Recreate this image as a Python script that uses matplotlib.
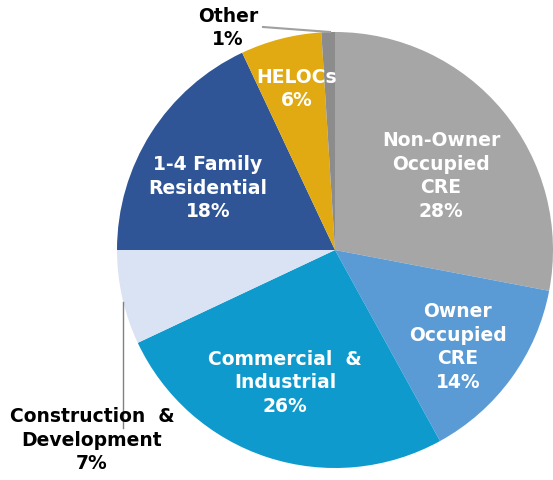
import matplotlib
matplotlib.use("Agg")
import matplotlib.pyplot as plt

categories = ["Non-Owner\nOccupied\nCRE", "Owner\nOccupied\nCRE", "Commercial  &\nIndustrial",
              "Construction  &\nDevelopment", "1-4 Family\nResidential", "HELOCs", "Other"]
values = [28, 14, 26, 7, 18, 6, 1]
colors = ["#A6A6A6", "#5B9BD5", "#0E9ACD", "#DAE3F3", "#2F5597", "#E2AA12", "#8C8C8C"]

W, H = 553, 480
fig = plt.figure(figsize=(W / 100, H / 100), dpi=100)
ax = fig.add_axes([0, 0, 1, 1])

cx, cy, r = 335, H - 250, 218
wedges, _ = ax.pie(values, colors=colors, startangle=90, counterclock=False,
                   center=(cx, cy), radius=r, frame=True,
                   wedgeprops=dict(linewidth=0))
ax.set_xlim(0, W)
ax.set_ylim(0, H)
ax.set_aspect("equal")
ax.axis("off")

fs = 13.5
font = dict(fontsize=fs, fontweight="bold", ha="center", va="center",
            family="DejaVu Sans", linespacing=1.33)

def lab(i):
    return f"{categories[i]}\n{values[i]}%"

inside = {0: (441, 176), 1: (458, 347), 2: (285, 383), 4: (208, 188), 5: (297, 89)}
for i, (x, y) in inside.items():
    ax.text(x, H - y, lab(i), color="white", **font)

# outside labels
ax.text(92, H - 440, lab(3), color="black", **font)
ax.text(228, H - 28, lab(6), color="black", **font)

# leader lines
ax.plot([123, 123], [H - 302, H - 428], color="#808080", lw=1)
ax.plot([263, 330], [H - 27, H - 32], color="#A0A0A0", lw=1.5)

fig.savefig("out.png", dpi=100)
